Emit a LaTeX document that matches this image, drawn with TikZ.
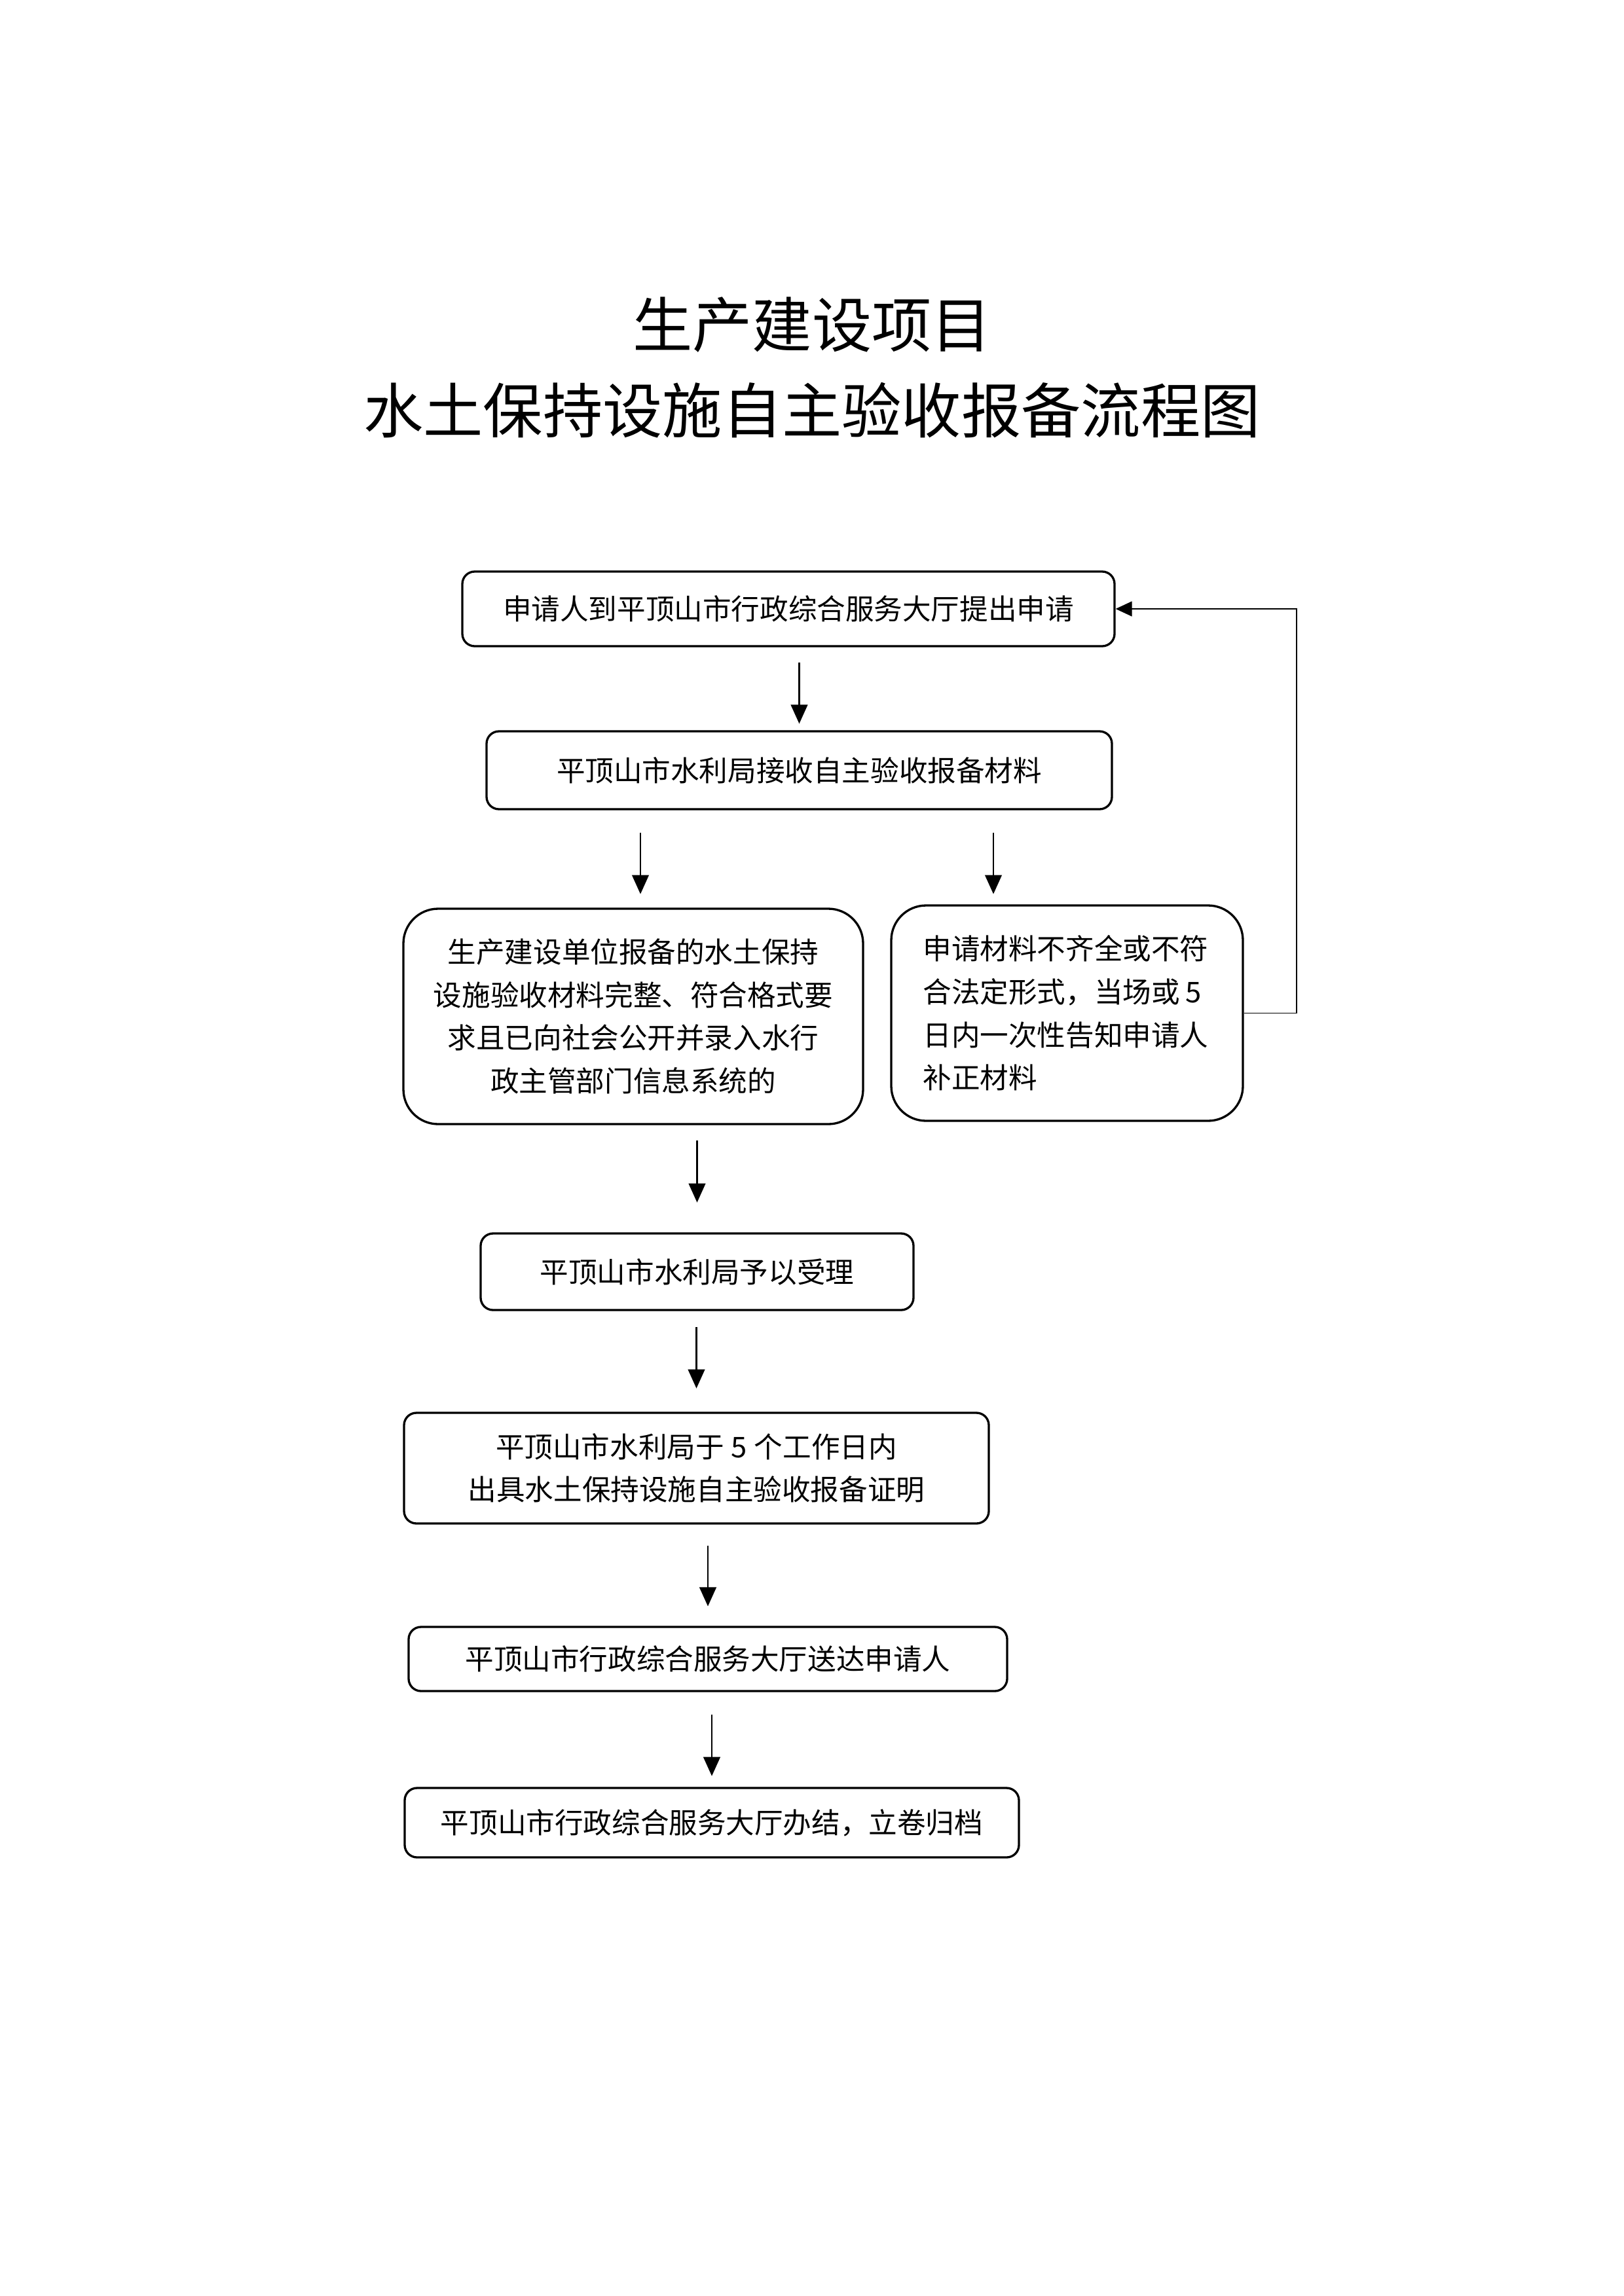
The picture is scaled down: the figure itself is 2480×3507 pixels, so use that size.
\documentclass[tikz,border=0pt]{standalone}
\usepackage{fontspec}
\setmainfont{Noto Sans CJK SC}
\usetikzlibrary{arrows.meta}
\def\pxu{0.084667mm}
\begin{document}
\begin{tikzpicture}[x=\pxu, y=-\pxu,
  box/.style={draw, line width=0.8pt, inner sep=0pt, align=center, font=\fontsize{10.5}{15.8}\selectfont},
  rc/.style={rounded corners=1.6mm},
  rcbig/.style={rounded corners=4.5mm},
  arr/.style={-{Triangle[length=7pt,width=6.2pt]}, line width=0.5pt},
  fb/.style={-{Triangle[length=6pt,width=5.5pt]}, line width=0.4pt},
  ttl/.style={font=\fontsize{22}{26}\selectfont, inner sep=0pt}]
\fill[white] (0,0) rectangle (2480,3507);
\useasboundingbox (0,0) rectangle (2480,3507);

\node[ttl] (t1) at (1240,496) {生产建设项目};
\node[ttl] (t2) at (1240,627) {水土保持设施自主验收报备流程图};

\node[box, rc, minimum width=996*\pxu, minimum height=114*\pxu] (b1) at (1204,930) {申请人到平顶山市行政综合服务大厅提出申请};
\node[box, rc, minimum width=955*\pxu, minimum height=119*\pxu] (b2) at (1220.5,1176.5) {平顶山市水利局接收自主验收报备材料};
\node[box, rcbig, minimum width=702*\pxu, minimum height=329*\pxu] (b3) at (967,1552.5) {生产建设单位报备的水土保持\\设施验收材料完整、符合格式要\\求且已向社会公开并录入水行\\政主管部门信息系统的};
\node[box, rcbig, minimum width=537*\pxu, minimum height=329*\pxu, align=left, text width=106pt] (b4) at (1629.5,1547.5) {申请材料不齐全或不符\\合法定形式，当场或\hspace{0.2em}5\\日内一次性告知申请人\\补正材料};
\node[box, rc, minimum width=661*\pxu, minimum height=117*\pxu] (b5) at (1064.5,1942.5) {平顶山市水利局予以受理};
\node[box, rc, minimum width=893*\pxu, minimum height=169*\pxu, font=\fontsize{10.5}{15.5}\selectfont] (b6) at (1063.5,2242.5) {平顶山市水利局于\hspace{0.25em}5\hspace{0.25em}个工作日内\\出具水土保持设施自主验收报备证明};
\node[box, rc, minimum width=914*\pxu, minimum height=98*\pxu] (b7) at (1081,2534) {平顶山市行政综合服务大厅送达申请人};
\node[box, rc, minimum width=938*\pxu, minimum height=106*\pxu] (b8) at (1087,2784) {平顶山市行政综合服务大厅办结，立卷归档};

\coordinate (a2l) at ([xshift=11*\pxu]b3.north);
\coordinate (a2r) at ([xshift=-112.5*\pxu]b4.north);

\draw[arr, shorten <=5.5pt, shorten >=2.4pt] (b1.south -| b2.north) -- (b2.north);
\draw[arr, shorten <=8.2pt, shorten >=5pt] (a2l |- b2.south) -- (a2l);
\draw[arr, shorten <=8.2pt, shorten >=3.8pt] (a2r |- b2.south) -- (a2r);
\draw[arr, shorten <=5.5pt, shorten >=11pt] (b3.south -| b5.north) -- (b5.north);
\draw[arr, shorten <=5.8pt, shorten >=8.6pt] (b5.south -| b6.north) -- (b6.north);
\draw[arr, shorten <=7.7pt, shorten >=7.2pt] (b6.south -| b7.north) -- (b7.north);
\draw[arr, shorten <=8.2pt, shorten >=4pt] (b7.south -| b8.north) -- (b8.north);

\draw[fb] (b4.east) -- ++(80,0) |- (b1.east);
\end{tikzpicture}
\end{document}
